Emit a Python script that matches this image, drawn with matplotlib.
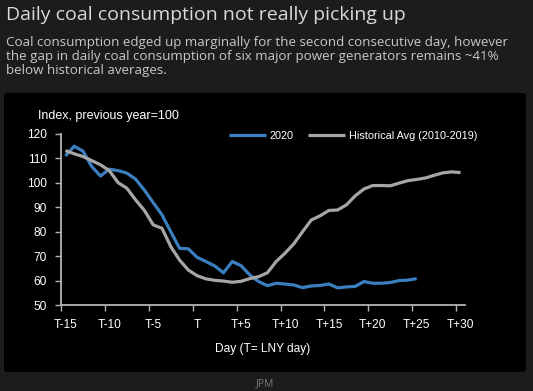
import numpy as np
import matplotlib
matplotlib.use('Agg')
import matplotlib.pyplot as plt
from matplotlib.patches import FancyBboxPatch

# day index relative to LNY (T=0)
days_2020 = np.arange(-15, 26)
coal_2020 = [111, 115, 113, 106.7, 102.8, 105.6, 105, 104, 101.5, 97, 91.9, 86.9, 80, 73.2, 73, 69.5,
             67.8, 66, 63.2, 67.8, 66.1, 62.3, 59.6, 57.9, 58.9, 58.6, 58.2, 57.1, 57.8, 58, 58.6,
             57, 57.4, 57.6, 59.6, 58.9, 58.9, 59.2, 60, 60.2, 60.8]
days_hist = np.arange(-15, 31)
coal_hist = [113.2, 111.9, 110.8, 109.1, 107.4, 105, 100.1, 97.8, 93, 88.7, 82.8, 81.4, 73.9, 68.4, 64.3, 62,
             60.7, 60.1, 59.8, 59.3, 59.7, 60.8, 61.6, 63.2, 67.8, 71.2, 75, 80, 84.8, 86.5, 88.7,
             88.9, 91, 94.7, 97.5, 98.9, 98.9, 98.8, 99.9, 100.9, 101.4, 102, 103.1, 104.1, 104.5, 104.2]
tick_days = [-15, -10, -5, 0, 5, 10, 15, 20, 25, 30]
tick_labels = ['T-15', 'T-10', 'T-5', 'T', 'T+5', 'T+10', 'T+15', 'T+20', 'T+25', 'T+30']

BG = '#1c1c1c'
BLUE = '#3b7fc0'
GREY = '#a6a6a6'
AX = '#b4b4b4'
CHART_FONT = 'Liberation Sans'

fig = plt.figure(figsize=(5.33, 3.91), dpi=100, facecolor=BG)

# black chart panel, behind the axes
panel = FancyBboxPatch((4 / 533, 1 - 372 / 391), 522 / 533, 279 / 391,
                       boxstyle='round,pad=0,rounding_size=0.008',
                       transform=fig.transFigure, facecolor='black', edgecolor='none', zorder=-5)
fig.patches.append(panel)

fig.text(6 / 533, 1 - 20.5 / 391, 'Daily coal consumption not really picking up',
         color='#d9d9d9', fontsize=14, family='Open Sans', va='baseline')
sub = ('Coal consumption edged up marginally for the second consecutive day, however\n'
       'the gap in daily coal consumption of six major power generators remains ~41%\n'
       'below historical averages.')
fig.text(6 / 533, 1 - 36 / 391, sub, color='#c8c8c8', fontsize=9.6, family='Open Sans',
         va='top', linespacing=1.1)
fig.text(265 / 533, 1 - 384 / 391, 'JPM', color='#777777', fontsize=7.5, ha='center', va='center',
         family='Open Sans')

ax = fig.add_axes([61 / 533, 1 - 305 / 391, 404 / 533, 171 / 391])
ax.patch.set_alpha(0)
# points sit in the middle of each day's category slot
ax.plot(days_2020 + 0.5, coal_2020, color=BLUE, lw=2.3, label='2020', solid_capstyle='butt')
ax.plot(days_hist + 0.5, coal_hist, color=GREY, lw=2.3, label='Historical Avg (2010-2019)',
        solid_capstyle='butt')

ax.set_xlim(-15, 31)
ax.set_ylim(50, 120)
ax.set_yticks(range(50, 121, 10))
ax.set_xticks(tick_days)
ax.set_xticklabels([])
ax.set_xticks([d + 0.5 for d in tick_days], minor=True)
ax.set_xticklabels(tick_labels, minor=True)
ax.tick_params(axis='x', which='minor', length=0, pad=10)
ax.tick_params(axis='x', which='major', length=4, color=AX, width=1)
ax.tick_params(axis='y', length=4, color=AX, width=1, pad=6)
for lab in ax.get_xticklabels(minor=True) + ax.get_yticklabels():
    lab.set_family(CHART_FONT)
    lab.set_fontsize(8.6)
    lab.set_color('white')
for s in ['top', 'right']:
    ax.spines[s].set_visible(False)
for s in ['left', 'bottom']:
    ax.spines[s].set_color(AX)
    ax.spines[s].set_linewidth(1.3)

ax.set_xlabel('Day (T= LNY day)', color='white', fontsize=8.6, family=CHART_FONT, labelpad=9)
fig.text(38 / 533, 1 - 116 / 391, 'Index, previous year=100', color='white', fontsize=9,
         family=CHART_FONT, va='center')

leg = ax.legend(loc='center left', bbox_to_anchor=(229 / 533, 1 - 136 / 391),
                bbox_transform=fig.transFigure, ncol=2, frameon=False, handlelength=3.4,
                handletextpad=0.37, columnspacing=1.3, borderaxespad=0, borderpad=0,
                prop={'family': CHART_FONT, 'size': 7.8})
for t in leg.get_texts():
    t.set_color('white')

fig.savefig('out.png', dpi=100, facecolor=BG)
